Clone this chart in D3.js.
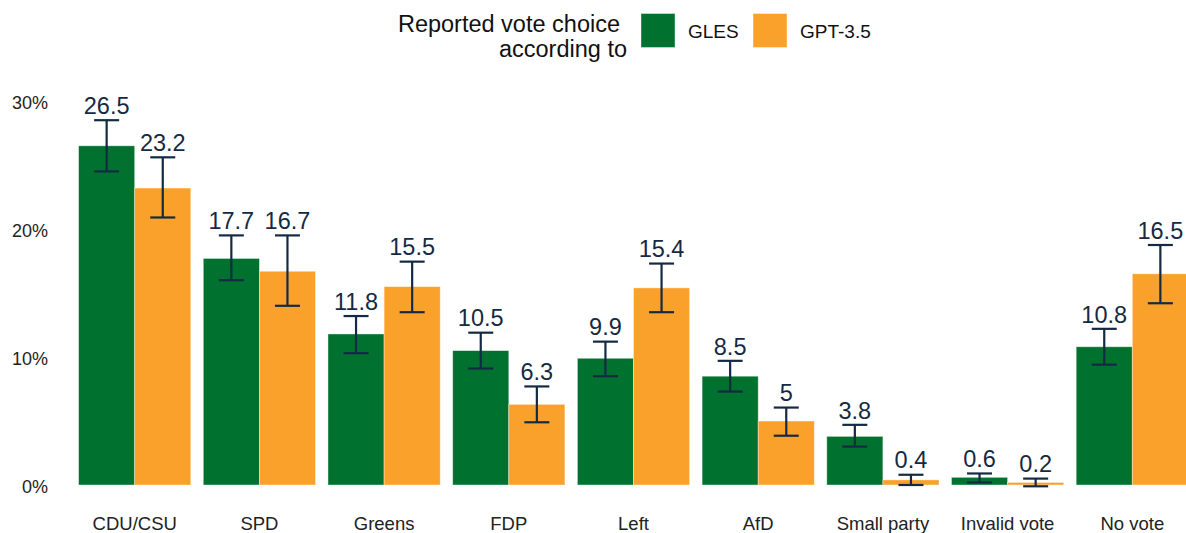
<!DOCTYPE html>
<html><head><meta charset="utf-8">
<script src="https://cdn.jsdelivr.net/npm/d3@7"></script>
<style>body{margin:0;background:#fff;} svg{display:block;font-family:"Liberation Sans",Arial,Helvetica,sans-serif;}</style>
</head><body>
<svg id="chart" width="1186" height="533"></svg>
<script>
const categories = ["CDU/CSU","SPD","Greens","FDP","Left","AfD","Small party","Invalid vote","No vote"];
const series = ["GLES","GPT-3.5"];
const glesValues = [26.5,17.7,11.8,10.5,9.9,8.5,3.8,0.6,10.8];
const gptValues  = [23.2,16.7,15.5,6.3,15.4,5,0.4,0.2,16.5];
const glesLow  = [24.5,16.0,10.3,9.1,8.5,7.3,3.0,0.2,9.4];
const glesHigh = [28.5,19.5,13.2,11.9,11.2,9.7,4.7,0.9,12.2];
const gptLow   = [20.9,14.0,13.5,4.9,13.5,3.85,0.0,-0.1,14.2];
const gptHigh  = [25.6,19.5,17.45,7.7,17.3,6.05,0.8,0.5,18.75];
const yTicks = [0,10,20,30];
const colors = {"GLES":"#00712f","GPT-3.5":"#f9a12b"};
const errColor = "#142a43";

const svg = d3.select("#chart");
const step = 124.7;
const x = d3.scaleBand().domain(categories).range([134.7 - step/2, 134.7 - step/2 + step*categories.length]).padding(0);
const xInner = d3.scaleBand().domain(series).range([0, step*0.9]);
const y = d3.scaleLinear().domain([0,30]).range([485, 101]);

const data = [];
categories.forEach((c,i)=>{
  data.push({cat:c, s:"GLES", v:glesValues[i], lo:glesLow[i], hi:glesHigh[i]});
  data.push({cat:c, s:"GPT-3.5", v:gptValues[i], lo:gptLow[i], hi:gptHigh[i]});
});
const bx = d => x(d.cat) + step*0.05 + xInner(d.s);
const bw = xInner.bandwidth();

// y axis
const yAxis = d3.axisLeft(y).tickValues(yTicks).tickFormat(d=>d+"%").tickSize(0).tickPadding(0);
const ya = svg.append("g").attr("transform","translate(48,1.5)").call(yAxis);
ya.select(".domain").remove();
ya.selectAll("text").attr("font-size",18).attr("fill","#222").attr("font-family","Liberation Sans, Arial, sans-serif");

// x axis
const xAxis = d3.axisBottom(x).tickSize(0).tickPadding(0);
const xa = svg.append("g").attr("transform","translate(0,517)").call(xAxis);
xa.select(".domain").remove();
xa.selectAll("text").attr("font-size",18.5).attr("fill","#222").attr("font-family","Liberation Sans, Arial, sans-serif");

// bars
svg.append("g").selectAll("rect").data(data).join("rect")
  .attr("x", bx).attr("width", bw)
  .attr("y", d=>y(d.v)).attr("height", d=>y(0)-y(d.v))
  .attr("fill", d=>colors[d.s])
  .attr("stroke","#ffffff").attr("stroke-opacity",0.5).attr("stroke-width",0.8);

// error bars
const eb = svg.append("g").attr("stroke",errColor).attr("stroke-width",2.2).attr("fill","none");
data.forEach(d=>{
  const cx = bx(d)+bw/2, hw = 12.5;
  eb.append("line").attr("x1",cx).attr("x2",cx).attr("y1",y(d.lo)).attr("y2",y(d.hi));
  eb.append("line").attr("x1",cx-hw).attr("x2",cx+hw).attr("y1",y(d.lo)).attr("y2",y(d.lo));
  eb.append("line").attr("x1",cx-hw).attr("x2",cx+hw).attr("y1",y(d.hi)).attr("y2",y(d.hi));
});

// value labels
svg.append("g").selectAll("text").data(data).join("text")
  .attr("x", d=>bx(d)+bw/2).attr("y", d=>y(d.hi)-6.3)
  .attr("text-anchor","middle").attr("font-size",23.5).attr("fill",errColor)
  .text(d=>String(d.v));

// legend
const lg = svg.append("g");
lg.append("text").attr("x",620).attr("y",31.5).attr("text-anchor","end").attr("font-size",23.5).attr("fill","#111").text("Reported vote choice");
lg.append("text").attr("x",627).attr("y",57).attr("text-anchor","end").attr("font-size",23.5).attr("fill","#111").text("according to");
const legX = [641, 753];
series.forEach((s,i)=>{
  lg.append("rect").attr("x",legX[i]).attr("y",13.5).attr("width",34).attr("height",34)
    .attr("fill",colors[s]).attr("stroke","#ffffff").attr("stroke-opacity",0.5).attr("stroke-width",0.8);
  lg.append("text").attr("x",legX[i]+47).attr("y",37.5).attr("font-size",19).attr("fill","#111").text(s);
});
</script>
</body></html>
